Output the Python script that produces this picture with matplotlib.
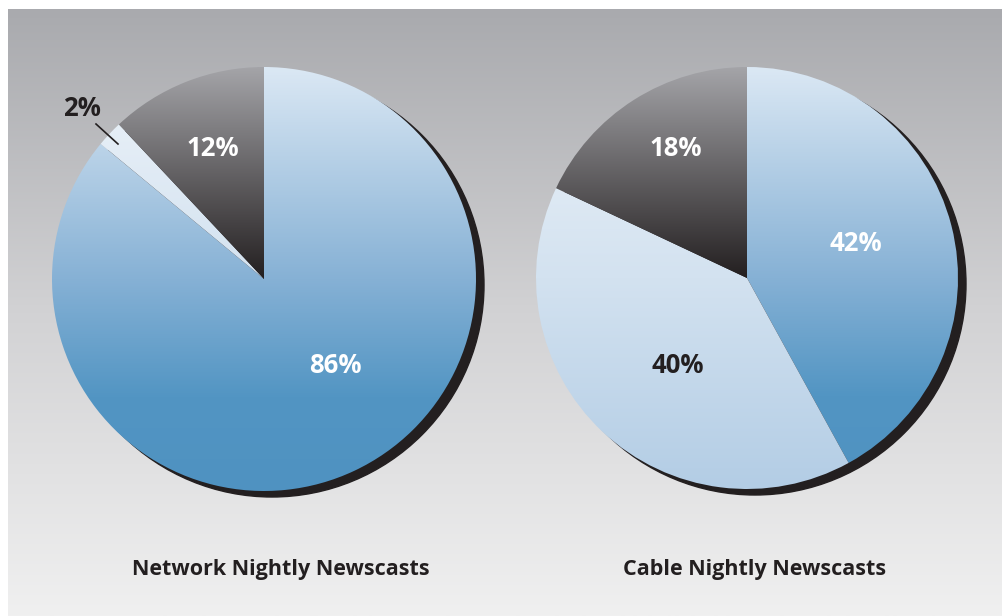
import numpy as np
import matplotlib
matplotlib.use("Agg")
import matplotlib.pyplot as plt
from matplotlib.colors import LinearSegmentedColormap
from matplotlib.patches import Circle

# Share of coverage in nightly newscasts (percent)
titles = ["Network Nightly Newscasts", "Cable Nightly Newscasts"]
network_shares = [86, 2, 12]
cable_shares = [42, 40, 18]

W, H = 1002, 616
FONT = "Open Sans"

# vertical gradient ramps (top -> bottom of each pie)
ramps = {
    "blue": [(0.0, "#dbe8f4"), (0.5, "#86b1d5"), (0.78, "#5295c3"), (1.0, "#4f92c1")],
    "light": [(0.0, "#edf3f9"), (0.5, "#d3e2f0"), (1.0, "#b3cde5")],
    "dark": [(0.0, "#a4a4a8"), (0.5, "#231f20"), (1.0, "#231f20")],
}
cmaps = {k: LinearSegmentedColormap.from_list(k, v) for k, v in ramps.items()}
slice_styles = ["blue", "light", "dark"]

fig = plt.figure(figsize=(W / 100, H / 100), dpi=100)
fig.patch.set_facecolor("white")
ax = fig.add_axes([0, 0, 1, 1])
ax.set_xlim(0, W)
ax.set_ylim(0, H)
ax.set_aspect("equal")
ax.axis("off")

# panel background gradient
bg = LinearSegmentedColormap.from_list("bg", ["#a9aaae", "#d2d2d4", "#f0f0f0"])
grad = np.linspace(0, 1, 256).reshape(-1, 1)
ax.imshow(grad, cmap=bg, extent=(8, W, 0, H - 9), origin="upper",
          aspect="auto", interpolation="bilinear", zorder=0)

LABEL_SIZE = 18.5


def draw_pie(values, cx, cy, r, labels_spec, title, title_x):
    ycen = H - cy
    ax.add_patch(Circle((cx + 8, ycen - 6), r, color="#231f20", zorder=1))
    wedges, _ = ax.pie(values, startangle=90, counterclock=False,
                       center=(cx, ycen), radius=r,
                       wedgeprops=dict(linewidth=0, facecolor="none"),
                       frame=True)
    for w, style in zip(wedges, slice_styles):
        w.set_zorder(2)
        im = ax.imshow(grad, cmap=cmaps[style],
                       extent=(cx - r, cx + r, ycen - r, ycen + r),
                       origin="upper", aspect="auto",
                       interpolation="bilinear", zorder=2)
        im.set_clip_path(w)
    for v, (ang, dist, color) in zip(values, labels_spec):
        if ang is None:
            continue
        a = np.deg2rad(ang)
        ax.text(cx + dist * r * np.cos(a), ycen + dist * r * np.sin(a),
                f"{v}%", ha="center", va="center", color=color,
                fontsize=LABEL_SIZE, fontweight="bold", family=FONT, zorder=4)
    ax.text(title_x, H - 570, title, ha="center", va="center",
            color="#231f20", fontsize=15.5, fontweight="bold",
            family=FONT, zorder=4)


draw_pie(network_shares, 264, 279, 212,
         [(-50.5, 0.53, "white"), (None, 0, None), (111.6, 0.66, "white")],
         titles[0], 281)
draw_pie(cable_shares, 747, 278, 211,
         [(17.6, 0.54, "white"), (-128.5, 0.53, "#231f20"), (118.8, 0.70, "white")],
         titles[1], 755)

# outside label for the thin slice with a leader line
ax.text(82, H - 108, f"{network_shares[1]}%", ha="center", va="center",
        color="#231f20", fontsize=LABEL_SIZE, fontweight="bold", family=FONT,
        zorder=4)
ax.plot([96, 118], [H - 124, H - 144], color="#231f20", lw=1.2, zorder=4)

ax.set_xlim(0, W)
ax.set_ylim(0, H)
ax.axis("off")
fig.savefig("out.png", dpi=100, facecolor="white")
